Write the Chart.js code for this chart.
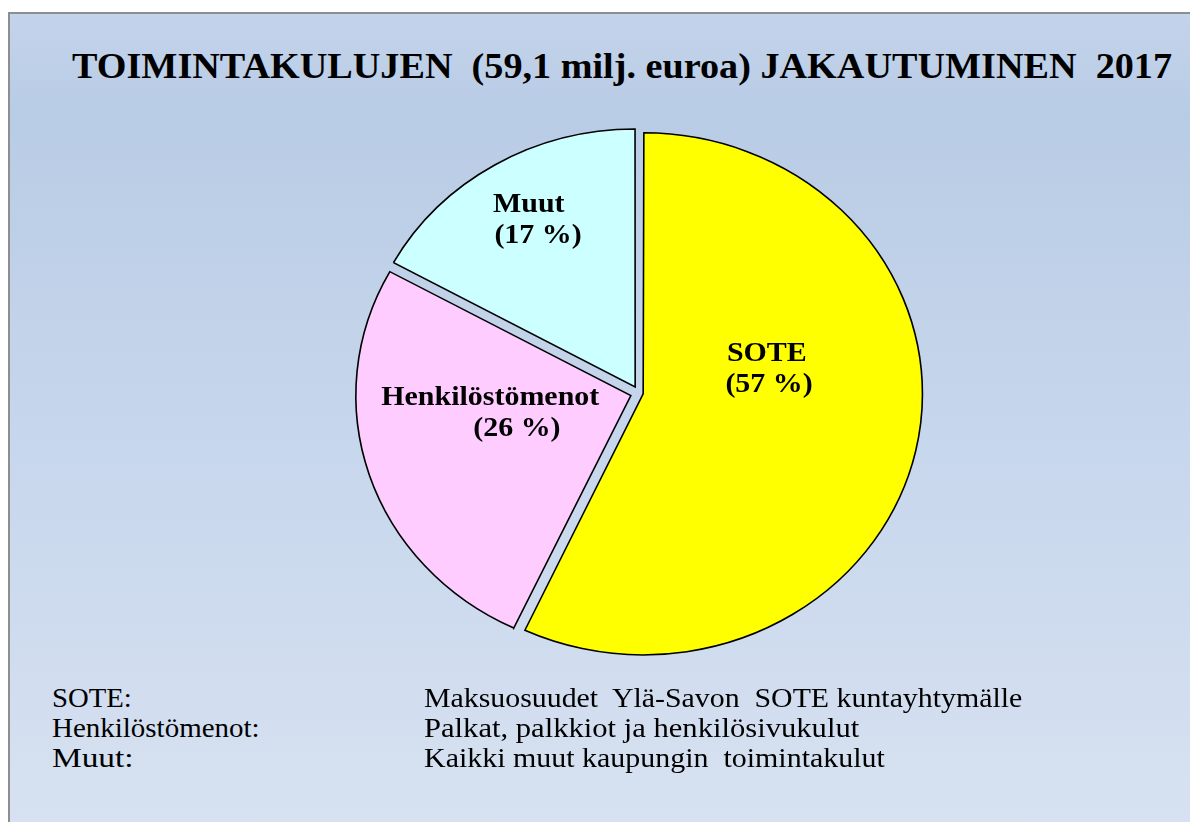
<!DOCTYPE html>
<html>
<head>
<meta charset="utf-8">
<title>Toimintakulujen jakautuminen 2017</title>
<script src="https://cdn.jsdelivr.net/npm/chart.js@4/dist/chart.umd.min.js"></script>
<style>
body {
    margin: 0;
    width: 1190px;
    height: 822px;
    overflow: hidden;
    background: #fff;
    font-family: "Liberation Serif", "Times New Roman", serif;
    color: #000;
}
#frame {
    position: absolute;
    left: 8px;
    top: 12px;
    width: 1200px;
    height: 830px;
    border-left: 2px solid #8e8e8e;
    border-top: 2px solid #8e8e8e;
    background: linear-gradient(to bottom, #c4d3ec 0%, #b9cce5 12%, #c6d6ec 50%, #d8e2f1 100%);
}
.fit {
    position: absolute;
    white-space: pre;
    line-height: 1;
    transform-origin: 0 0;
}
#title { left: 72px; top: 48px; font-size: 36px; font-weight: bold; }
.note { font-size: 28px; }
#pie { position: absolute; left: 339px; top: 93px; }
</style>
</head>
<body>
<div id="frame"></div>
<div id="title" class="fit" data-w="1100">TOIMINTAKULUJEN  (59,1 milj. euroa) JAKAUTUMINEN  2017</div>
<canvas id="pie" width="600" height="600"></canvas>
<div id="notes"></div>

<script>
const categories = ['SOTE', 'Henkilöstömenot', 'Muut'];
const shares = [57, 26, 17];
const sliceColors = ['#ffff00', '#ffccff', '#ccffff'];
// chart.js v4 draws offset/4, doubled for slices over half the circle,
// so these all come out as roughly the same 8px explode
const sliceOffsets = [16, 32, 28];

const noteTerms = ['SOTE:', 'Henkilöstömenot:', 'Muut:'];
const noteTexts = [
    'Maksuosuudet  Ylä-Savon  SOTE kuntayhtymälle',
    'Palkat, palkkiot ja henkilösivukulut',
    'Kaikki muut kaupungin  toimintakulut'
];
const noteTermWidths = [80, 208, 81];
const noteTextWidths = [598, 435, 461];

// label lines per slice: [dx, dy] from the pie centre, in radii (baseline)
const labelAnchors = [
    [[0.465, -0.125], [0.473, -0.004]],
    [[-0.541, 0.047], [-0.444, 0.167]],
    [[-0.401, -0.704], [-0.367, -0.584]]
];
const stretchX = 1.07; // the original pie is a little wider than tall

// footnote rows
var notes = document.getElementById('notes');
for (var i = 0; i < noteTerms.length; i++) {
    var rowTop = 684 + i * 30;
    var a = document.createElement('div');
    a.className = 'fit note';
    a.style.left = '52px';
    a.style.top = rowTop + 'px';
    a.dataset.w = noteTermWidths[i];
    a.textContent = noteTerms[i];
    notes.appendChild(a);
    var b = document.createElement('div');
    b.className = 'fit note';
    b.style.left = '424px';
    b.style.top = rowTop + 'px';
    b.dataset.w = noteTextWidths[i];
    b.textContent = noteTexts[i];
    notes.appendChild(b);
}

document.querySelectorAll('.fit').forEach(function (el) {
    var w = el.offsetWidth;
    if (w > 0) el.style.transform = 'scaleX(' + (el.dataset.w / w) + ')';
});

const stretchPlugin = {
    id: 'stretch',
    beforeDatasetsDraw(chart) {
        const arc = chart.getDatasetMeta(0).data[0];
        const ctx = chart.ctx;
        ctx.save();
        ctx.translate(arc.x, 0);
        ctx.scale(stretchX, 1);
        ctx.translate(-arc.x, 0);
    },
    afterDatasetsDraw(chart) {
        const ctx = chart.ctx;
        const arcs = chart.getDatasetMeta(0).data;
        ctx.font = 'bold 28px "Liberation Serif", "Times New Roman", serif';
        ctx.fillStyle = '#000';
        ctx.textAlign = 'center';
        ctx.textBaseline = 'alphabetic';
        arcs.forEach(function (arc, i) {
            const r = arc.outerRadius;
            const lines = [categories[i], '(' + shares[i] + ' %)'];
            lines.forEach(function (txt, j) {
                const p = labelAnchors[i][j];
                ctx.fillText(txt, arc.x + p[0] * r, arc.y + p[1] * r);
            });
        });
        ctx.restore();
    }
};

new Chart(document.getElementById('pie'), {
    type: 'pie',
    data: {
        labels: categories,
        datasets: [{
            data: shares,
            backgroundColor: sliceColors,
            borderColor: '#000',
            borderWidth: 1.5,
            borderJoinStyle: 'miter',
            offset: sliceOffsets
        }]
    },
    options: {
        responsive: false,
        animation: false,
        radius: 257,
        layout: { padding: 0 },
        plugins: {
            legend: { display: false },
            tooltip: { enabled: false },
            title: { display: false }
        }
    },
    plugins: [stretchPlugin]
});
</script>
</body>
</html>
